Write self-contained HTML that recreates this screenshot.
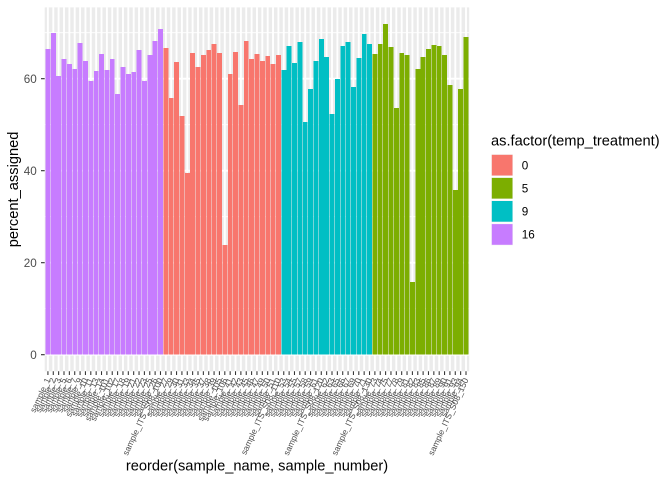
<!DOCTYPE html>
<html><head><meta charset="utf-8"><style>
html,body{margin:0;padding:0;background:#fff;}
svg{display:block;font-family:"Liberation Sans",sans-serif;}
</style></head><body>
<svg width="672" height="480" viewBox="0 0 672 480" xmlns="http://www.w3.org/2000/svg">
<rect x="0" y="0" width="672" height="480" fill="#fff"/>
<rect x="44.7" y="7.4" width="424.5" height="363.9" fill="#EBEBEB"/>
<path d="M44.7 308.7H469.2M44.7 216.7H469.2M44.7 124.7H469.2M44.7 32.7H469.2" stroke="#fff" stroke-width="0.95" fill="none"/>
<path d="M44.7 354.7H469.2M44.7 262.7H469.2M44.7 170.7H469.2M44.7 78.7H469.2" stroke="#fff" stroke-width="1.9" fill="none"/>
<path stroke="#fff" stroke-width="1.9" fill="none" d="M47.92 7.4V371.3M53.28 7.4V371.3M58.64 7.4V371.3M64 7.4V371.3M69.36 7.4V371.3M74.72 7.4V371.3M80.08 7.4V371.3M85.44 7.4V371.3M90.8 7.4V371.3M96.16 7.4V371.3M101.52 7.4V371.3M106.88 7.4V371.3M112.24 7.4V371.3M117.6 7.4V371.3M122.96 7.4V371.3M128.32 7.4V371.3M133.68 7.4V371.3M139.04 7.4V371.3M144.4 7.4V371.3M149.76 7.4V371.3M155.12 7.4V371.3M160.48 7.4V371.3M165.84 7.4V371.3M171.2 7.4V371.3M176.56 7.4V371.3M181.92 7.4V371.3M187.28 7.4V371.3M192.64 7.4V371.3M198 7.4V371.3M203.36 7.4V371.3M208.72 7.4V371.3M214.08 7.4V371.3M219.44 7.4V371.3M224.8 7.4V371.3M230.16 7.4V371.3M235.52 7.4V371.3M240.88 7.4V371.3M246.24 7.4V371.3M251.6 7.4V371.3M256.96 7.4V371.3M262.32 7.4V371.3M267.68 7.4V371.3M273.04 7.4V371.3M278.4 7.4V371.3M283.76 7.4V371.3M289.12 7.4V371.3M294.48 7.4V371.3M299.84 7.4V371.3M305.2 7.4V371.3M310.56 7.4V371.3M315.92 7.4V371.3M321.28 7.4V371.3M326.64 7.4V371.3M332 7.4V371.3M337.36 7.4V371.3M342.72 7.4V371.3M348.08 7.4V371.3M353.44 7.4V371.3M358.8 7.4V371.3M364.16 7.4V371.3M369.52 7.4V371.3M374.88 7.4V371.3M380.24 7.4V371.3M385.6 7.4V371.3M390.96 7.4V371.3M396.32 7.4V371.3M401.68 7.4V371.3M407.04 7.4V371.3M412.4 7.4V371.3M417.76 7.4V371.3M423.12 7.4V371.3M428.48 7.4V371.3M433.84 7.4V371.3M439.2 7.4V371.3M444.56 7.4V371.3M449.92 7.4V371.3M455.28 7.4V371.3M460.64 7.4V371.3M466 7.4V371.3"/>
<g fill="#C77CFF" shape-rendering="crispEdges">
<rect x="45.51" y="49" width="4.9" height="305.7"/>
<rect x="50.87" y="33" width="4.9" height="321.7"/>
<rect x="56.23" y="76" width="4.9" height="278.7"/>
<rect x="61.59" y="59" width="4.9" height="295.7"/>
<rect x="66.95" y="64" width="4.9" height="290.7"/>
<rect x="72.31" y="69" width="4.9" height="285.7"/>
<rect x="77.67" y="43" width="4.9" height="311.7"/>
<rect x="83.03" y="61" width="4.9" height="293.7"/>
<rect x="88.39" y="81" width="4.9" height="273.7"/>
<rect x="93.75" y="71" width="4.9" height="283.7"/>
<rect x="99.11" y="54" width="4.9" height="300.7"/>
<rect x="104.47" y="70" width="4.9" height="284.7"/>
<rect x="109.83" y="59" width="4.9" height="295.7"/>
<rect x="115.19" y="94" width="4.9" height="260.7"/>
<rect x="120.55" y="67" width="4.9" height="287.7"/>
<rect x="125.91" y="74" width="4.9" height="280.7"/>
<rect x="131.27" y="72" width="4.9" height="282.7"/>
<rect x="136.63" y="50" width="4.9" height="304.7"/>
<rect x="141.99" y="81" width="4.9" height="273.7"/>
<rect x="147.35" y="55" width="4.9" height="299.7"/>
<rect x="152.71" y="41" width="4.9" height="313.7"/>
<rect x="158.07" y="29" width="4.9" height="325.7"/>
</g>
<g fill="#F8766D" shape-rendering="crispEdges">
<rect x="163.43" y="48" width="4.9" height="306.7"/>
<rect x="168.79" y="98" width="4.9" height="256.7"/>
<rect x="174.15" y="62" width="4.9" height="292.7"/>
<rect x="179.51" y="116" width="4.9" height="238.7"/>
<rect x="184.87" y="173" width="4.9" height="181.7"/>
<rect x="190.23" y="53" width="4.9" height="301.7"/>
<rect x="195.59" y="67" width="4.9" height="287.7"/>
<rect x="200.95" y="55" width="4.9" height="299.7"/>
<rect x="206.31" y="50" width="4.9" height="304.7"/>
<rect x="211.67" y="44" width="4.9" height="310.7"/>
<rect x="217.03" y="53" width="4.9" height="301.7"/>
<rect x="222.39" y="245" width="4.9" height="109.7"/>
<rect x="227.75" y="74" width="4.9" height="280.7"/>
<rect x="233.11" y="52" width="4.9" height="302.7"/>
<rect x="238.47" y="105" width="4.9" height="249.7"/>
<rect x="243.83" y="41" width="4.9" height="313.7"/>
<rect x="249.19" y="59" width="4.9" height="295.7"/>
<rect x="254.55" y="54" width="4.9" height="300.7"/>
<rect x="259.91" y="61" width="4.9" height="293.7"/>
<rect x="265.27" y="56" width="4.9" height="298.7"/>
<rect x="270.63" y="64" width="4.9" height="290.7"/>
<rect x="275.99" y="55" width="4.9" height="299.7"/>
</g>
<g fill="#00BFC4" shape-rendering="crispEdges">
<rect x="281.35" y="70" width="4.9" height="284.7"/>
<rect x="286.71" y="46" width="4.9" height="308.7"/>
<rect x="292.07" y="63" width="4.9" height="291.7"/>
<rect x="297.43" y="42" width="4.9" height="312.7"/>
<rect x="302.79" y="122" width="4.9" height="232.7"/>
<rect x="308.15" y="89" width="4.9" height="265.7"/>
<rect x="313.51" y="61" width="4.9" height="293.7"/>
<rect x="318.87" y="39" width="4.9" height="315.7"/>
<rect x="324.23" y="57" width="4.9" height="297.7"/>
<rect x="329.59" y="114" width="4.9" height="240.7"/>
<rect x="334.95" y="79" width="4.9" height="275.7"/>
<rect x="340.31" y="46" width="4.9" height="308.7"/>
<rect x="345.67" y="42" width="4.9" height="312.7"/>
<rect x="351.03" y="87" width="4.9" height="267.7"/>
<rect x="356.39" y="58" width="4.9" height="296.7"/>
<rect x="361.75" y="34" width="4.9" height="320.7"/>
<rect x="367.11" y="44" width="4.9" height="310.7"/>
</g>
<g fill="#7CAE00" shape-rendering="crispEdges">
<rect x="372.47" y="54" width="4.9" height="300.7"/>
<rect x="377.83" y="44" width="4.9" height="310.7"/>
<rect x="383.19" y="24" width="4.9" height="330.7"/>
<rect x="388.55" y="47" width="4.9" height="307.7"/>
<rect x="393.91" y="108" width="4.9" height="246.7"/>
<rect x="399.27" y="53" width="4.9" height="301.7"/>
<rect x="404.63" y="55" width="4.9" height="299.7"/>
<rect x="409.99" y="282" width="4.9" height="72.7"/>
<rect x="415.35" y="69" width="4.9" height="285.7"/>
<rect x="420.71" y="57" width="4.9" height="297.7"/>
<rect x="426.07" y="49" width="4.9" height="305.7"/>
<rect x="431.43" y="45" width="4.9" height="309.7"/>
<rect x="436.79" y="46" width="4.9" height="308.7"/>
<rect x="442.15" y="55" width="4.9" height="299.7"/>
<rect x="447.51" y="85" width="4.9" height="269.7"/>
<rect x="452.87" y="190" width="4.9" height="164.7"/>
<rect x="458.23" y="89" width="4.9" height="265.7"/>
<rect x="463.59" y="37" width="4.9" height="317.7"/>
</g>
<!-- axis ticks -->
<path stroke="#333333" stroke-width="1.07" fill="none" d="M41 354.7H44.7M41 262.7H44.7M41 170.7H44.7M41 78.7H44.7"/>
<path stroke="#333333" stroke-width="1.07" fill="none" d="M47.92 371.3V375M53.28 371.3V375M58.64 371.3V375M64 371.3V375M69.36 371.3V375M74.72 371.3V375M80.08 371.3V375M85.44 371.3V375M90.8 371.3V375M96.16 371.3V375M101.52 371.3V375M106.88 371.3V375M112.24 371.3V375M117.6 371.3V375M122.96 371.3V375M128.32 371.3V375M133.68 371.3V375M139.04 371.3V375M144.4 371.3V375M149.76 371.3V375M155.12 371.3V375M160.48 371.3V375M165.84 371.3V375M171.2 371.3V375M176.56 371.3V375M181.92 371.3V375M187.28 371.3V375M192.64 371.3V375M198 371.3V375M203.36 371.3V375M208.72 371.3V375M214.08 371.3V375M219.44 371.3V375M224.8 371.3V375M230.16 371.3V375M235.52 371.3V375M240.88 371.3V375M246.24 371.3V375M251.6 371.3V375M256.96 371.3V375M262.32 371.3V375M267.68 371.3V375M273.04 371.3V375M278.4 371.3V375M283.76 371.3V375M289.12 371.3V375M294.48 371.3V375M299.84 371.3V375M305.2 371.3V375M310.56 371.3V375M315.92 371.3V375M321.28 371.3V375M326.64 371.3V375M332 371.3V375M337.36 371.3V375M342.72 371.3V375M348.08 371.3V375M353.44 371.3V375M358.8 371.3V375M364.16 371.3V375M369.52 371.3V375M374.88 371.3V375M380.24 371.3V375M385.6 371.3V375M390.96 371.3V375M396.32 371.3V375M401.68 371.3V375M407.04 371.3V375M412.4 371.3V375M417.76 371.3V375M423.12 371.3V375M428.48 371.3V375M433.84 371.3V375M439.2 371.3V375M444.56 371.3V375M449.92 371.3V375M455.28 371.3V375M460.64 371.3V375M466 371.3V375"/>
<!-- y tick labels -->
<g fill="#4D4D4D" font-size="11.7" text-anchor="end">
<text x="36.8" y="358.9">0</text>
<text x="36.8" y="266.9">20</text>
<text x="36.8" y="174.9">40</text>
<text x="36.8" y="82.9">60</text>
</g>
<!-- x tick labels -->
<g fill="#4D4D4D" font-size="8.5" text-anchor="end">
<text transform="translate(47.92,378.5) rotate(-65)" dy="0.35em">sample_1</text>
<text transform="translate(53.28,378.5) rotate(-65)" dy="0.35em">sample_2</text>
<text transform="translate(58.64,378.5) rotate(-65)" dy="0.35em">sample_3</text>
<text transform="translate(64,378.5) rotate(-65)" dy="0.35em">sample_5</text>
<text transform="translate(69.36,378.5) rotate(-65)" dy="0.35em">sample_6</text>
<text transform="translate(74.72,378.5) rotate(-65)" dy="0.35em">sample_7</text>
<text transform="translate(80.08,378.5) rotate(-65)" dy="0.35em">sample_9</text>
<text transform="translate(85.44,378.5) rotate(-65)" dy="0.35em">sample_10</text>
<text transform="translate(90.8,378.5) rotate(-65)" dy="0.35em">sample_11</text>
<text transform="translate(96.16,378.5) rotate(-65)" dy="0.35em">sample_13</text>
<text transform="translate(101.52,378.5) rotate(-65)" dy="0.35em">sample_14</text>
<text transform="translate(106.88,378.5) rotate(-65)" dy="0.35em">sample_101</text>
<text transform="translate(112.24,378.5) rotate(-65)" dy="0.35em">sample_102</text>
<text transform="translate(117.6,378.5) rotate(-65)" dy="0.35em">sample_17</text>
<text transform="translate(122.96,378.5) rotate(-65)" dy="0.35em">sample_18</text>
<text transform="translate(128.32,378.5) rotate(-65)" dy="0.35em">sample_19</text>
<text transform="translate(133.68,378.5) rotate(-65)" dy="0.35em">sample_21</text>
<text transform="translate(139.04,378.5) rotate(-65)" dy="0.35em">sample_22</text>
<text transform="translate(144.4,378.5) rotate(-65)" dy="0.35em">sample_23</text>
<text transform="translate(149.76,378.5) rotate(-65)" dy="0.35em">sample_25</text>
<text transform="translate(155.12,378.5) rotate(-65)" dy="0.35em">sample_26</text>
<text transform="translate(160.48,378.5) rotate(-65)" dy="0.35em">sample_ITS_S08_100</text>
<text transform="translate(165.84,378.5) rotate(-65)" dy="0.35em">sample_27</text>
<text transform="translate(171.2,378.5) rotate(-65)" dy="0.35em">sample_29</text>
<text transform="translate(176.56,378.5) rotate(-65)" dy="0.35em">sample_30</text>
<text transform="translate(181.92,378.5) rotate(-65)" dy="0.35em">sample_31</text>
<text transform="translate(187.28,378.5) rotate(-65)" dy="0.35em">sample_33</text>
<text transform="translate(192.64,378.5) rotate(-65)" dy="0.35em">sample_34</text>
<text transform="translate(198,378.5) rotate(-65)" dy="0.35em">sample_35</text>
<text transform="translate(203.36,378.5) rotate(-65)" dy="0.35em">sample_37</text>
<text transform="translate(208.72,378.5) rotate(-65)" dy="0.35em">sample_38</text>
<text transform="translate(214.08,378.5) rotate(-65)" dy="0.35em">sample_39</text>
<text transform="translate(219.44,378.5) rotate(-65)" dy="0.35em">sample_105</text>
<text transform="translate(224.8,378.5) rotate(-65)" dy="0.35em">sample_106</text>
<text transform="translate(230.16,378.5) rotate(-65)" dy="0.35em">sample_41</text>
<text transform="translate(235.52,378.5) rotate(-65)" dy="0.35em">sample_42</text>
<text transform="translate(240.88,378.5) rotate(-65)" dy="0.35em">sample_43</text>
<text transform="translate(246.24,378.5) rotate(-65)" dy="0.35em">sample_45</text>
<text transform="translate(251.6,378.5) rotate(-65)" dy="0.35em">sample_46</text>
<text transform="translate(256.96,378.5) rotate(-65)" dy="0.35em">sample_47</text>
<text transform="translate(262.32,378.5) rotate(-65)" dy="0.35em">sample_49</text>
<text transform="translate(267.68,378.5) rotate(-65)" dy="0.35em">sample_50</text>
<text transform="translate(273.04,378.5) rotate(-65)" dy="0.35em">sample_51</text>
<text transform="translate(278.4,378.5) rotate(-65)" dy="0.35em">sample_ITS_S08_110</text>
<text transform="translate(283.76,378.5) rotate(-65)" dy="0.35em">sample_53</text>
<text transform="translate(289.12,378.5) rotate(-65)" dy="0.35em">sample_54</text>
<text transform="translate(294.48,378.5) rotate(-65)" dy="0.35em">sample_55</text>
<text transform="translate(299.84,378.5) rotate(-65)" dy="0.35em">sample_57</text>
<text transform="translate(305.2,378.5) rotate(-65)" dy="0.35em">sample_58</text>
<text transform="translate(310.56,378.5) rotate(-65)" dy="0.35em">sample_59</text>
<text transform="translate(315.92,378.5) rotate(-65)" dy="0.35em">sample_61</text>
<text transform="translate(321.28,378.5) rotate(-65)" dy="0.35em">sample_ITS_S08_120</text>
<text transform="translate(326.64,378.5) rotate(-65)" dy="0.35em">sample_62</text>
<text transform="translate(332,378.5) rotate(-65)" dy="0.35em">sample_63</text>
<text transform="translate(337.36,378.5) rotate(-65)" dy="0.35em">sample_65</text>
<text transform="translate(342.72,378.5) rotate(-65)" dy="0.35em">sample_66</text>
<text transform="translate(348.08,378.5) rotate(-65)" dy="0.35em">sample_67</text>
<text transform="translate(353.44,378.5) rotate(-65)" dy="0.35em">sample_69</text>
<text transform="translate(358.8,378.5) rotate(-65)" dy="0.35em">sample_70</text>
<text transform="translate(364.16,378.5) rotate(-65)" dy="0.35em">sample_71</text>
<text transform="translate(369.52,378.5) rotate(-65)" dy="0.35em">sample_ITS_S08_130</text>
<text transform="translate(374.88,378.5) rotate(-65)" dy="0.35em">sample_73</text>
<text transform="translate(380.24,378.5) rotate(-65)" dy="0.35em">sample_74</text>
<text transform="translate(385.6,378.5) rotate(-65)" dy="0.35em">sample_75</text>
<text transform="translate(390.96,378.5) rotate(-65)" dy="0.35em">sample_77</text>
<text transform="translate(396.32,378.5) rotate(-65)" dy="0.35em">sample_78</text>
<text transform="translate(401.68,378.5) rotate(-65)" dy="0.35em">sample_79</text>
<text transform="translate(407.04,378.5) rotate(-65)" dy="0.35em">sample_81</text>
<text transform="translate(412.4,378.5) rotate(-65)" dy="0.35em">sample_82</text>
<text transform="translate(417.76,378.5) rotate(-65)" dy="0.35em">sample_83</text>
<text transform="translate(423.12,378.5) rotate(-65)" dy="0.35em">sample_85</text>
<text transform="translate(428.48,378.5) rotate(-65)" dy="0.35em">sample_86</text>
<text transform="translate(433.84,378.5) rotate(-65)" dy="0.35em">sample_87</text>
<text transform="translate(439.2,378.5) rotate(-65)" dy="0.35em">sample_89</text>
<text transform="translate(444.56,378.5) rotate(-65)" dy="0.35em">sample_90</text>
<text transform="translate(449.92,378.5) rotate(-65)" dy="0.35em">sample_91</text>
<text transform="translate(455.28,378.5) rotate(-65)" dy="0.35em">sample_93</text>
<text transform="translate(460.64,378.5) rotate(-65)" dy="0.35em">sample_94</text>
<text transform="translate(466,378.5) rotate(-65)" dy="0.35em">sample_ITS_S08_150</text>
</g>
<!-- axis titles -->
<text x="257" y="470.5" font-size="14.67" fill="#000" text-anchor="middle">reorder(sample_name, sample_number)</text>
<text transform="translate(18,189.4) rotate(-90)" font-size="14.67" fill="#000" text-anchor="middle">percent_assigned</text>
<!-- legend -->
<text x="491" y="145.3" font-size="14.67" fill="#000">as.factor(temp_treatment)</text>
<rect x="491.3" y="154.3" width="21.7" height="21.7" fill="#F2F2F2"/>
<rect x="491.8" y="154.8" width="20.7" height="20.7" fill="#F8766D"/>
<rect x="491.3" y="177.4" width="21.7" height="21.7" fill="#F2F2F2"/>
<rect x="491.8" y="177.9" width="20.7" height="20.7" fill="#7CAE00"/>
<rect x="491.3" y="200.5" width="21.7" height="21.7" fill="#F2F2F2"/>
<rect x="491.8" y="201" width="20.7" height="20.7" fill="#00BFC4"/>
<rect x="491.3" y="223.6" width="21.7" height="21.7" fill="#F2F2F2"/>
<rect x="491.8" y="224.1" width="20.7" height="20.7" fill="#C77CFF"/>
<g font-size="11.7" fill="#000">
<text x="521.7" y="169.3">0</text>
<text x="521.7" y="192.4">5</text>
<text x="521.7" y="215.5">9</text>
<text x="521.7" y="238.6">16</text>
</g>
</svg>
</body></html>
